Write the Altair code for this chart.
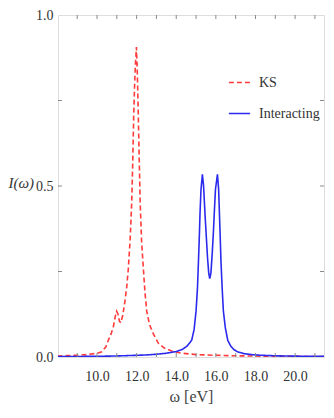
import altair as alt
import pandas as pd

# ---- data ----
KS_X = [8.0, 8.5, 9.0, 9.5, 10.0, 10.24, 10.45, 10.57, 10.7, 10.82, 10.92, 10.99, 11.06, 11.13,
        11.2, 11.3, 11.41, 11.5, 11.58, 11.67, 11.75, 11.8, 11.85, 11.9, 11.95, 11.99, 12.03,
        12.08, 12.13, 12.18, 12.25, 12.34, 12.42, 12.51, 12.65, 12.84, 13.1, 13.4, 13.8, 14.3,
        15.0, 16.0, 17.0, 18.0, 19.0, 20.0, 21.0, 21.8]
KS_Y = [0.003, 0.004, 0.005, 0.007, 0.011, 0.015, 0.030, 0.049, 0.066, 0.087, 0.118, 0.134,
        0.125, 0.105, 0.100, 0.122, 0.163, 0.205, 0.258, 0.340, 0.449, 0.560, 0.700, 0.800,
        0.870, 0.906, 0.840, 0.720, 0.580, 0.450, 0.340, 0.258, 0.190, 0.134, 0.095, 0.068,
        0.040, 0.026, 0.017, 0.011, 0.007, 0.005, 0.0035, 0.0028, 0.0022, 0.0018, 0.0015, 0.0013]

INT_X = [8.0, 9.0, 10.0, 11.0, 12.0, 12.5, 13.0, 13.5, 14.0, 14.3, 14.55, 14.78, 14.9, 15.0,
         15.07, 15.12, 15.17, 15.2, 15.25, 15.32, 15.38, 15.45, 15.52, 15.58, 15.64, 15.69,
         15.75, 15.82, 15.88, 15.92, 15.98, 16.08, 16.14, 16.18, 16.22, 16.26, 16.32, 16.38,
         16.48, 16.6, 16.75, 16.9, 17.1, 17.4, 17.8, 18.3, 19.0, 20.0, 21.0, 21.8]
INT_Y = [0.001, 0.0015, 0.002, 0.003, 0.005, 0.006, 0.008, 0.011, 0.016, 0.022, 0.032, 0.049,
         0.080, 0.134, 0.200, 0.277, 0.360, 0.420, 0.490, 0.534, 0.500, 0.420, 0.350, 0.290,
         0.245, 0.229, 0.245, 0.306, 0.370, 0.420, 0.490, 0.534, 0.490, 0.420, 0.350, 0.277,
         0.200, 0.134, 0.085, 0.049, 0.032, 0.022, 0.015, 0.010, 0.007, 0.005, 0.0035, 0.0025,
         0.002, 0.0015]

SERIES = ["KS", "Interacting"]
COLORS = ["#ff3b3b", "#2a2aee"]
X_LABELS = [10, 12, 14, 16, 18, 20]
X_TICKS = [9, 10, 11, 12, 13, 14, 15, 16, 17, 18, 19, 20, 21]
Y_LABELS = [0.0, 0.5, 1.0]
Y_TICKS = [0.25, 0.5, 0.75]

W, H = 266, 342
FONT = "Liberation Serif, DejaVu Serif, serif"
FRAME = "#8a8a8a"

df = pd.concat([
    pd.DataFrame({"x": KS_X, "y": KS_Y, "s": SERIES[0], "o": range(len(KS_X))}),
    pd.DataFrame({"x": INT_X, "y": INT_Y, "s": SERIES[1], "o": range(len(INT_X))}),
])
xt = pd.DataFrame({"x": X_TICKS})
yt = pd.DataFrame({"y": Y_TICKS})

xscale = alt.Scale(domain=[8.03, 21.46], nice=False, zero=False)
yscale = alt.Scale(domain=[0, 1], nice=False)

lines = alt.Chart(df).mark_line(strokeWidth=1.6, clip=True).encode(
    x=alt.X("x:Q", scale=xscale,
            axis=alt.Axis(values=X_LABELS, format=".1f", ticks=False, domain=False, grid=False,
                          labelFont=FONT, labelFontSize=14, labelColor="#333", labelPadding=12,
                          title="ω [eV]", titleFont=FONT, titleFontSize=16,
                          titleFontWeight="normal", titleColor="#444", titlePadding=5)),
    y=alt.Y("y:Q", scale=yscale,
            axis=alt.Axis(values=Y_LABELS, format=".1f", ticks=False, domain=False, grid=False,
                          labelFont=FONT, labelFontSize=14, labelColor="#333", labelPadding=5,
                          title="I(ω)", titleFont=FONT, titleFontSize=15, titleFontStyle="italic",
                          titleFontWeight="normal", titleColor="#333", titleAngle=0,
                          titleAlign="left", titleBaseline="middle", titleX=-50, titleY=167)),
    color=alt.Color("s:N", scale=alt.Scale(domain=SERIES, range=COLORS),
                    legend=alt.Legend(orient="none", legendX=170, legendY=56, title=None,
                                      symbolType="stroke", symbolSize=450, symbolStrokeWidth=1.5,
                                      labelFont=FONT, labelFontSize=14, labelColor="#333",
                                      rowPadding=12, labelOffset=8)),
    strokeDash=alt.StrokeDash("s:N", scale=alt.Scale(domain=SERIES, range=[[5, 3], [1, 0]]),
                              legend=None),
    order="o:Q",
)

tb = alt.Chart(xt).mark_rule(color=FRAME, strokeWidth=1).encode(
    x=alt.X("x:Q", scale=xscale), y=alt.value(H), y2=alt.value(H - 4))
tt = alt.Chart(xt).mark_rule(color=FRAME, strokeWidth=1).encode(
    x=alt.X("x:Q", scale=xscale), y=alt.value(0), y2=alt.value(4))
tl = alt.Chart(yt).mark_rule(color=FRAME, strokeWidth=1).encode(
    y=alt.Y("y:Q", scale=yscale), x=alt.value(0), x2=alt.value(4))
tr = alt.Chart(yt).mark_rule(color=FRAME, strokeWidth=1).encode(
    y=alt.Y("y:Q", scale=yscale), x=alt.value(W), x2=alt.value(W - 4))

chart = alt.layer(lines, tb, tt, tl, tr).properties(
    width=W, height=H,
    autosize=alt.AutoSizeParams(type="none"),
    padding={"left": 50, "top": 7, "right": 2, "bottom": 50},
).configure_view(stroke=FRAME, strokeWidth=1.5).configure(background="white")

chart.save("out.html", embed_options={"renderer": "svg", "actions": False})
